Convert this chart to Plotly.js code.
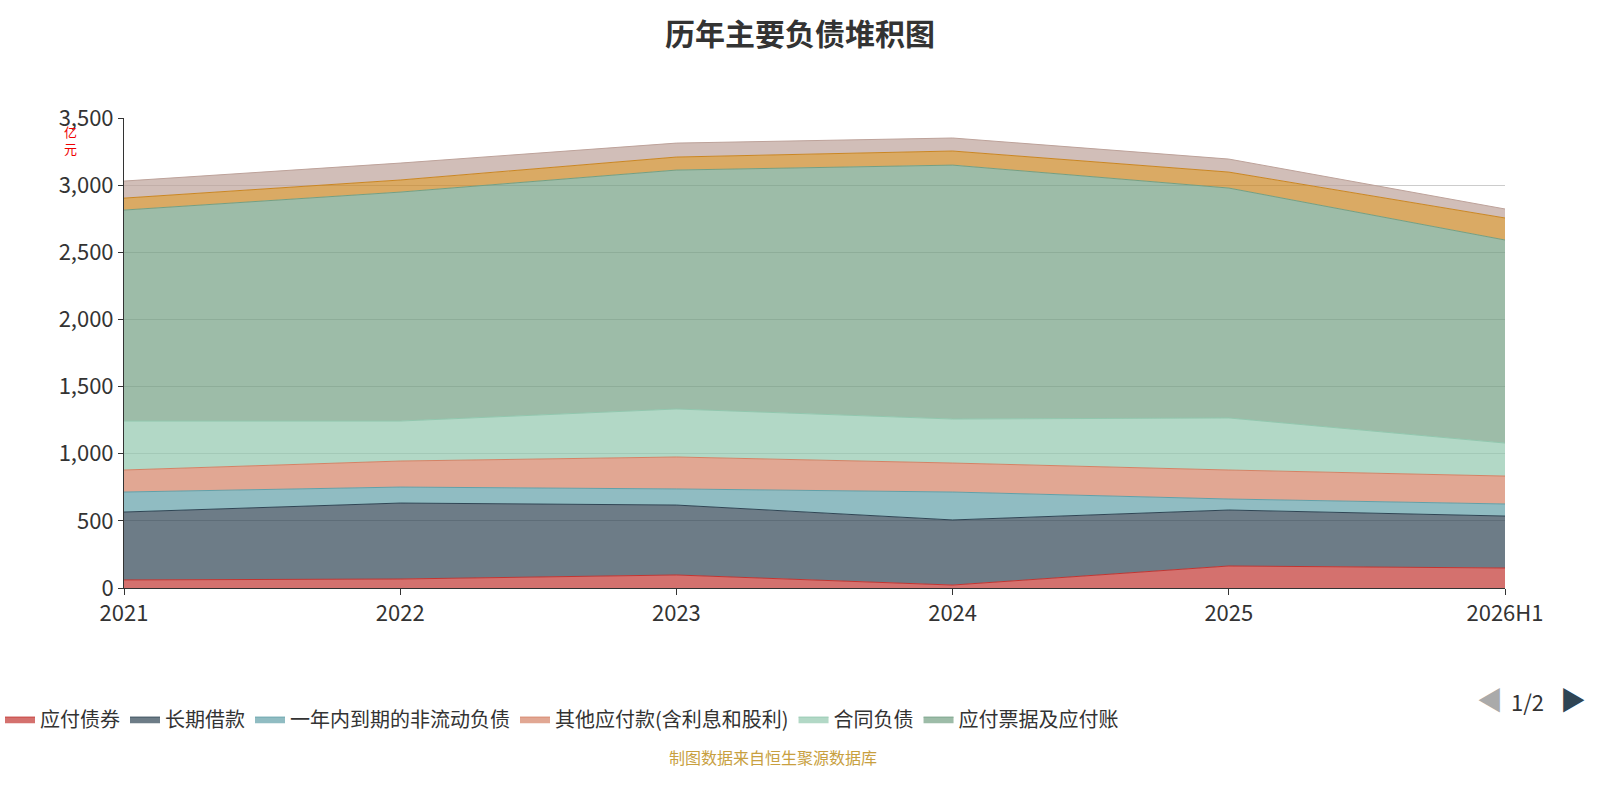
<!DOCTYPE html>
<html><head><meta charset="utf-8">
<script src="https://cdn.plot.ly/plotly-3.0.1.min.js"></script>
<style>body{margin:0}#c{width:1600px;height:800px}</style></head>
<body><div id="c"></div>
<script>
const years = ["2021","2022","2023","2024","2025","2026H1"];
const bonds = [60, 67, 97, 22, 164, 149];
const longLoans = [506, 566, 521, 485, 417, 387];
const currentNonCurrent = [149, 119, 120, 208, 82, 90];
const otherPayables = [164, 194, 238, 216, 216, 208];
const contractLiab = [365, 298, 358, 328, 388, 246];
const notesPayable = [1572, 1706, 1780, 1892, 1713, 1513];
const shortLoans = [89, 90, 97, 105, 119, 164];
const otherLiab = [127, 126, 104, 97, 97, 67];

const series = [
 ["应付债券", bonds, "#c23531", true],
 ["长期借款", longLoans, "#2f4554", true],
 ["一年内到期的非流动负债", currentNonCurrent, "#61a0a8", true],
 ["其他应付款(含利息和股利)", otherPayables, "#d48265", true],
 ["合同负债", contractLiab, "#91c7ae", true],
 ["应付票据及应付账", notesPayable, "#749f83", true],
 ["短期借款", shortLoans, "#ca8622", false],
 ["其他负债", otherLiab, "#bda29a", false]
];
function rgba(h,a){const n=parseInt(h.slice(1),16);return `rgba(${n>>16},${(n>>8)&255},${n&255},${a})`;}
const data = series.map(([n,v,c,s])=>({
 x: years, y: v, name: n, type:"scatter", mode:"lines", stackgroup:"a",
 line:{color:c,width:1}, fillcolor:rgba(c,0.7), showlegend:s
}));
const layout = {
 width:1600, height:800, paper_bgcolor:"#fff", plot_bgcolor:"#fff",
 font:{family:"Noto Sans CJK SC, sans-serif", size:20, color:"#333"},
 title:{text:"<b>历年主要负债堆积图</b>", x:0.5, y:0.97, font:{size:30,color:"#333"}},
 margin:{l:124, r:95, t:118, b:212, autoexpand:false},
 xaxis:{type:"category", range:[0,5], automargin:false, showgrid:false, showline:true, linecolor:"#333", ticks:"outside", ticklen:6, tickcolor:"#333", tickfont:{size:22}},
 yaxis:{range:[0,3502], dtick:500, tickformat:",", automargin:false, showgrid:true, gridcolor:"#ccc", showline:true, linecolor:"#333", ticks:"outside", tickcolor:"#333", tickfont:{size:22}, zeroline:false},
 legend:{orientation:"h", xref:"container", x:0, y:-0.279, yanchor:"middle", font:{size:20}, traceorder:"normal"},
 annotations:[
  {text:"亿<br>元", xref:"paper", yref:"paper", x:-0.045, y:0.995, yanchor:"top", showarrow:false, font:{size:13,color:"#e00"}},
  {text:"◀", xref:"paper", yref:"paper", x:1.0, y:-0.279, showarrow:false, font:{size:26,color:"#aaa"}},
  {text:"1/2", xref:"paper", yref:"paper", x:1.03, y:-0.279, showarrow:false, font:{size:22,color:"#333"}},
  {text:"▶", xref:"paper", yref:"paper", x:1.06, y:-0.279, showarrow:false, font:{size:26,color:"#2f4554"}},
  {text:"制图数据来自恒生聚源数据库", xref:"paper", yref:"paper", x:0.47, y:-0.39, showarrow:false, font:{size:16,color:"#c8a040"}}
 ]
};
Plotly.newPlot("c", data, layout, {displayModeBar:false});
</script></body></html>
